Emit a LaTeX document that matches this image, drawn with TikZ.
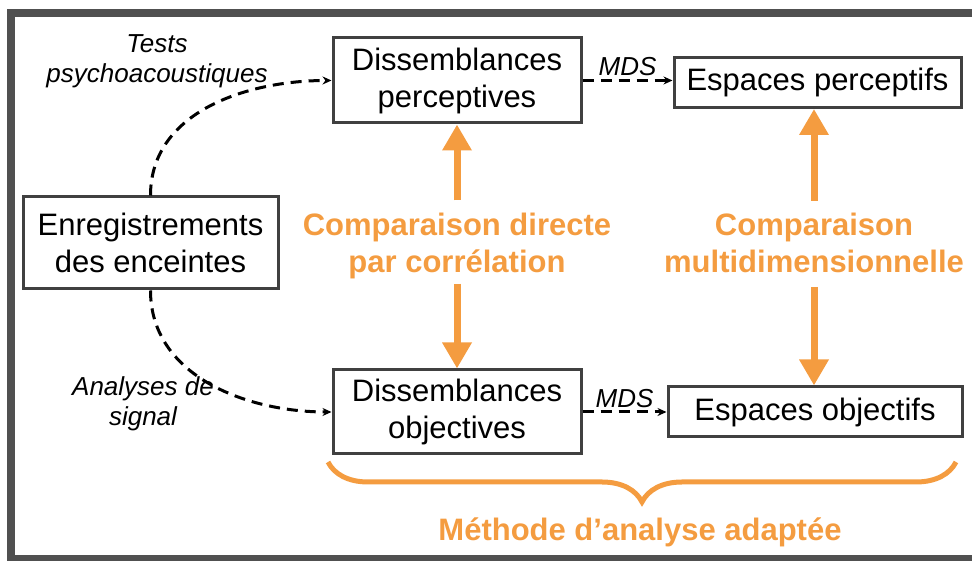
\documentclass[tikz,border=0pt]{standalone}
\usepackage{fontspec}
\setmainfont{Liberation Sans}
\usepackage{xcolor}
\usepackage{tikz}
\usetikzlibrary{positioning, arrows.meta, decorations.pathreplacing}
\definecolor{framegray}{RGB}{80,80,80}
\definecolor{boxgray}{RGB}{64,64,64}
\definecolor{accent}{RGB}{244,156,64}
\tikzstyle{box} = [rectangle, draw=boxgray, line width=3pt, align=center, inner sep=0pt, font=\fontsize{31}{37}\selectfont]
\tikzstyle{compare} = [text=accent, align=center, inner sep=5pt, font=\fontsize{31}{37}\selectfont\bfseries]
\tikzstyle{howto} = [align=center, inner sep=0pt, font=\fontsize{26}{30}\selectfont\itshape]
\tikzstyle{flow} = [dash pattern=on 11pt off 7pt, line width=3pt, -{Stealth[length=9pt, width=8pt]}]
\tikzstyle{bigarrow} = [accent, line width=7pt, -{Triangle[length=26pt, width=28pt]}]

\begin{document}
\begin{tikzpicture}[x=1pt, y=1pt]
		\useasboundingbox (0,0) rectangle (972,561);
		\draw [framegray, line width=8pt] (990,548) -- (11,548) -- (11,2) -- (990,2);
		\node (Enregistrements)[box, minimum width=255pt, minimum height=92pt] at (150.5,318) {Enregistrements\\des enceintes};
		\node (Dissemblances perceptives)[box, minimum width=248pt, minimum height=85pt] at (457,480.5) {Dissemblances\\perceptives};
		\node (Espaces perceptifs)[box, minimum width=287pt, minimum height=50pt, right = 90pt of Dissemblances perceptives, yshift=-2pt] {Espaces perceptifs};
		\node (Dissemblances objectives)[box, minimum width=248pt, minimum height=84pt, below = 244pt of Dissemblances perceptives] {Dissemblances\\objectives};
		\node (Espaces objectifs)[box, minimum width=294pt, minimum height=50pt, right = 84pt of Dissemblances objectives] {Espaces objectifs};
		\node (Tests)[howto] at (157,500) {Tests\\psychoacoustiques};
		\node (Analyses)[howto] at (143,157) {Analyses de\\signal};
		\node (Comparaison directe)[compare] at (457,315.5) {Comparaison directe\\par corrélation};
		\node (Comparaison multi)[compare] at (814,318.3) {Comparaison\\multidimensionnelle};
		\node (Methode)[compare] at (640,29) {Méthode d’analyse adaptée};
		\coordinate (Brace left) at (328,99);
		\coordinate (Brace right) at (956,99);
		\draw [flow] (Dissemblances perceptives.east) -- node[above, howto, inner sep=3pt]{MDS} (Dissemblances perceptives.east -| Espaces perceptifs.west);
		\draw [flow] (Dissemblances objectives) -- node[above, howto, inner sep=3pt]{MDS} (Espaces objectifs);
		\draw [flow] (Enregistrements.north) to[out=90, in=180] (Dissemblances perceptives.west);
		\draw [flow] (Enregistrements.south) to[out=-90, in=180] (Dissemblances objectives.west);
		\draw [bigarrow, shorten <=7pt] (Comparaison directe.north) -- (Comparaison directe.north |- Dissemblances perceptives.south);
		\draw [bigarrow] (Comparaison directe.south) -- (Comparaison directe.south |- Dissemblances objectives.north);
		\draw [bigarrow, shorten <=7pt] (Comparaison multi.north) -- (Comparaison multi.north |- Espaces perceptifs.south);
		\draw [bigarrow, shorten <=9pt] (Comparaison multi.south) -- (Comparaison multi.south |- Espaces objectifs.north);
		\draw [accent, line width=5pt, decorate, decoration={brace, mirror, amplitude=40pt}] (Brace left) -- (Brace right);
	\end{tikzpicture}
\end{document}
